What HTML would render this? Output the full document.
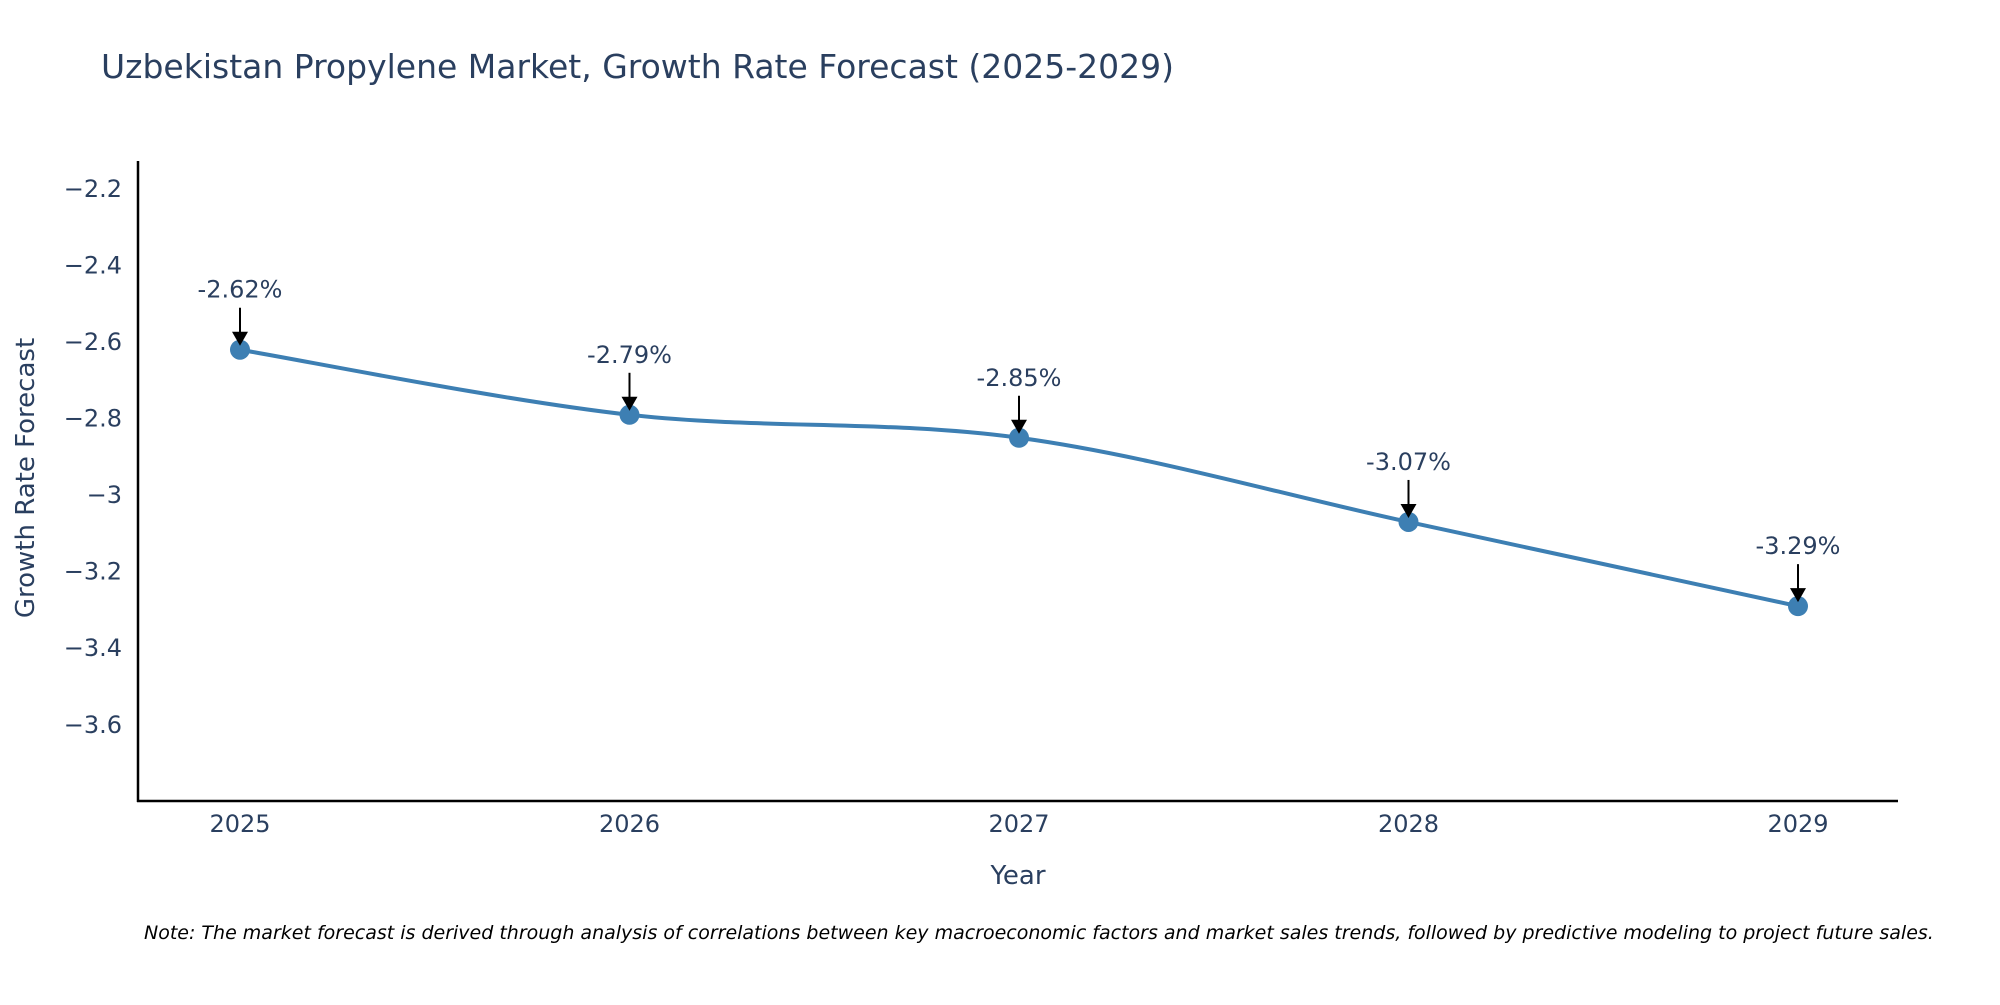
<!DOCTYPE html>
<html><head><meta charset="utf-8"><style>
body{margin:0;background:#fff;}
svg text{font-family:"DejaVu Sans","Liberation Sans",sans-serif;fill:#2a3f5f;}
</style></head><body>
<svg id="chart" width="2000" height="1000" xmlns="http://www.w3.org/2000/svg">
<rect width="2000" height="1000" fill="#fff"/>
<text x="101" y="78" font-size="33">Uzbekistan Propylene Market, Growth Rate Forecast (2025-2029)</text>
<g id="yticks"></g>
<g id="xticks"></g>
<line x1="138" y1="161" x2="138" y2="802" stroke="#000" stroke-width="2.5"/>
<line x1="137" y1="801" x2="1898" y2="801" stroke="#000" stroke-width="2.5"/>
<g id="series"></g>
<g id="annots"></g>
<text x="1018" y="884" font-size="26" text-anchor="middle">Year</text>
<text transform="translate(34,478) rotate(-90)" font-size="26" text-anchor="middle">Growth Rate Forecast</text>
<text x="144" y="939" font-size="19" font-style="italic" fill="#000" style="fill:#000">Note: The market forecast is derived through analysis of correlations between key macroeconomic factors and market sales trends, followed by predictive modeling to project future sales.</text>
</svg>
<script>
const years = ["2025","2026","2027","2028","2029"];
const values = [-2.62,-2.79,-2.85,-3.07,-3.29];
const labels = ["-2.62%","-2.79%","-2.85%","-3.07%","-3.29%"];
const yTickValues = [-2.2,-2.4,-2.6,-2.8,-3,-3.2,-3.4,-3.6];
const yTickLabels = ["\u22122.2","\u22122.4","\u22122.6","\u22122.8","\u22123","\u22123.2","\u22123.4","\u22123.6"];

const NS="http://www.w3.org/2000/svg";
function xPos(i){return 240+i*389.5;}
function yPos(v){return 189+(-2.2-v)*382.7;}
function mk(tag,attrs,parent){const e=document.createElementNS(NS,tag);for(const k in attrs)e.setAttribute(k,attrs[k]);parent.appendChild(e);return e;}

const yt=document.getElementById('yticks');
yTickValues.forEach((v,i)=>{
  const t=mk('text',{x:122,y:yPos(v)+8,'font-size':24,'text-anchor':'end'},yt);
  
  
  t.textContent=yTickLabels[i];
});
const xt=document.getElementById('xticks');
years.forEach((y,i)=>{
  const t=mk('text',{x:xPos(i),y:832,'font-size':24,'text-anchor':'middle'},xt);
  
  
  t.textContent=y;
});
// spline path (Catmull-Rom)
const pts=values.map((v,i)=>[xPos(i),yPos(v)]);
let d=`M${pts[0][0]},${pts[0][1]}`;
const s=0.5/3*2;
for(let i=0;i<pts.length-1;i++){
  const p0=pts[Math.max(0,i-1)],p1=pts[i],p2=pts[i+1],p3=pts[Math.min(pts.length-1,i+2)];
  const c1=[p1[0]+(p2[0]-p0[0])*s/2,p1[1]+(p2[1]-p0[1])*s/2];
  const c2=[p2[0]-(p3[0]-p1[0])*s/2,p2[1]-(p3[1]-p1[1])*s/2];
  d+=` C${c1[0]},${c1[1]} ${c2[0]},${c2[1]} ${p2[0]},${p2[1]}`;
}
const ser=document.getElementById('series');
const line=mk('path',{d:d,fill:'none',stroke:'#3d7fb3','stroke-width':4},ser);


const an=document.getElementById('annots');
pts.forEach((p,i)=>{
  const c=mk('circle',{cx:p[0],cy:p[1],r:10,fill:'#3d7fb3'},ser);
  
  
  const l=mk('line',{x1:p[0],y1:p[1]-42,x2:p[0],y2:p[1]-16,stroke:'#000','stroke-width':2},an);
  
  
  const h=mk('path',{d:`M${p[0]-8},${p[1]-18} L${p[0]+8},${p[1]-18} L${p[0]},${p[1]-4} Z`,fill:'#000'},an);
  
  
  const t=mk('text',{x:p[0],y:p[1]-52,'font-size':24,'text-anchor':'middle'},an);
  
  
  t.textContent=labels[i];
});
</script>
</body></html>
